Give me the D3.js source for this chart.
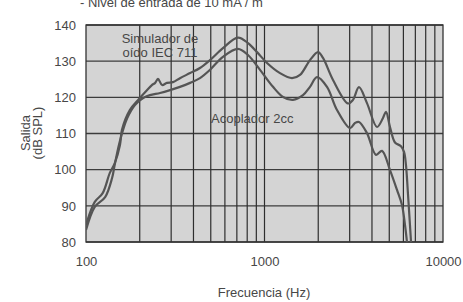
<!DOCTYPE html>
<html>
  <head>
    <script src="https://cdn.jsdelivr.net/npm/d3@7"></script>
    <style>
      body { margin: 0; background: #fff; }
      text { font-family: "Liberation Sans", Arial, sans-serif; fill: #474747; }
    </style>
  </head>
  <body>
    <svg width="463" height="302" id="mainsvg"></svg>
    <script>
      // data
      const simFreq = [100, 112, 124, 136, 145, 155, 159, 176, 196, 220, 234, 244, 253, 267, 284, 307, 336, 383, 435,
        495, 585, 710, 808, 908, 1033, 1221, 1426, 1581, 1798, 1994, 2127, 2420, 2936, 3132, 3383, 3751, 4269, 4612,
        4793, 5047, 5383, 5818, 6050, 6200, 6370, 6530, 6620];
      const simDb = [84.7, 91.1, 93.5, 99.1, 101.8, 106.8, 111.0, 116.5, 119.3, 122.0, 123.4, 124.0, 125.1, 123.4, 124.0, 124.2, 125.3, 126.7, 128.1,
        130.3, 133.6, 136.5, 135.0, 132.5, 129.5, 126.7, 125.3, 126.2, 130.3, 132.5, 130.9, 124.8, 118.3, 119.3, 122.8, 118.4, 111.8, 114.3,
        116.0, 111.8, 107.5, 106.5, 104.9, 101.3, 93.0, 84.7, 80.0];

      const cplFreq = [100, 112, 128, 140, 145, 155, 170, 188, 209, 228, 260, 296, 336, 383, 435,
        495, 585, 710, 808, 944, 1116, 1270, 1444, 1643, 1798, 1969, 2239, 2548, 3013, 3214, 3383, 3751, 4213, 4553,
        5047, 5525, 5892, 6124, 6284];
      const cplDb = [83.3, 89.7, 92.4, 97.7, 101.5, 108.0, 114.2, 117.9, 119.8, 120.6, 121.2, 122.0, 122.9, 124.0, 125.3,
        127.6, 131.2, 133.4, 131.7, 127.6, 122.9, 120.1, 119.3, 120.6, 122.9, 125.6, 122.9, 116.5, 111.5, 112.9, 113.2, 110.1, 104.1, 105.2,
        99.9, 94.4, 90.2, 84.7, 80.0];

      const yTicks = [80, 90, 100, 110, 120, 130, 140];
      const xTicks = [100, 1000, 10000];
      const xGrid = [200, 300, 400, 500, 600, 700, 800, 900, 1000,
        2000, 3000, 4000, 5000, 6000, 7000, 8000, 9000];

      const svg = d3.select('#mainsvg');
      const margin = {top: 25, right: 20, bottom: 60, left: 86};
      const innerWidth = 443 - margin.left;
      const innerHeight = 242 - margin.top;

      const xScale = d3.scaleLog().domain([100, 10000]).range([0, innerWidth]);
      const yScale = d3.scaleLinear().domain([80, 140]).range([innerHeight, 0]);

      const g = svg.append('g')
        .attr('transform', `translate(${margin.left}, ${margin.top})`);

      g.append('rect')
        .attr('width', innerWidth).attr('height', innerHeight)
        .attr('fill', '#d4d4d4');

      // grid
      g.selectAll('.hgrid').data(yTicks).join('line')
        .attr('class', 'hgrid')
        .attr('x1', 0).attr('x2', innerWidth)
        .attr('y1', d => yScale(d)).attr('y2', d => yScale(d))
        .attr('stroke', '#3c3c3c').attr('stroke-width', 1.3);
      g.selectAll('.vgrid').data(xGrid).join('line')
        .attr('class', 'vgrid')
        .attr('x1', d => xScale(d)).attr('x2', d => xScale(d))
        .attr('y1', 0).attr('y2', innerHeight)
        .attr('stroke', '#2e2e2e').attr('stroke-width', 1.2);

      g.append('rect')
        .attr('width', innerWidth).attr('height', innerHeight)
        .attr('fill', 'none').attr('stroke', '#333').attr('stroke-width', 1.3);

      svg.append('clipPath').attr('id', 'clip')
        .append('rect').attr('width', innerWidth).attr('height', innerHeight);

      const line = d3.line()
        .x(d => xScale(d[0]))
        .y(d => yScale(d[1]))
        .curve(d3.curveCatmullRom.alpha(0.5));

      const series = [d3.zip(simFreq, simDb), d3.zip(cplFreq, cplDb)];
      g.append('g').attr('clip-path', 'url(#clip)')
        .selectAll('path').data(series).join('path')
        .attr('d', line)
        .attr('fill', 'none')
        .attr('stroke', '#555')
        .attr('stroke-width', 2.2)
        .attr('stroke-linejoin', 'round');

      // axes (labels only)
      const yAxis = d3.axisLeft(yScale).tickValues(yTicks).tickSize(0).tickPadding(10);
      const yAxisGroup = g.append('g').call(yAxis);
      yAxisGroup.selectAll('.domain').remove();
      yAxisGroup.selectAll('text')
        .style('font-family', '"Liberation Sans", Arial, sans-serif')
        .style('font-size', '13px').attr('fill', '#474747');

      const xAxis = d3.axisBottom(xScale).tickValues(xTicks).tickFormat(d3.format('d')).tickSize(0).tickPadding(15);
      const xAxisGroup = g.append('g').call(xAxis)
        .attr('transform', `translate(0, ${innerHeight})`);
      xAxisGroup.selectAll('.domain').remove();
      xAxisGroup.selectAll('text')
        .style('font-family', '"Liberation Sans", Arial, sans-serif')
        .style('font-size', '13px').attr('fill', '#474747');

      // labels
      svg.append('text').attr('x', 80).attr('y', 7)
        .style('font-size', '13px').text('- Nivel de entrada de 10 mA / m');

      svg.append('text').attr('x', 264).attr('y', 297).attr('text-anchor', 'middle')
        .style('font-size', '13px').text('Frecuencia (Hz)');

      const yl = svg.append('text').attr('transform', 'translate(30, 133) rotate(-90)')
        .attr('text-anchor', 'middle').style('font-size', '13px');
      yl.append('tspan').attr('x', 0).attr('y', 0).text('Salida');
      yl.append('tspan').attr('x', 0).attr('y', 12).text('(dB SPL)');

      svg.append('text').attr('x', 160).attr('y', 43).attr('text-anchor', 'middle')
        .style('font-size', '13px').text('Simulador de');
      svg.append('text').attr('x', 160).attr('y', 57).attr('text-anchor', 'middle')
        .style('font-size', '13px').text('oído IEC 711');
      svg.append('text').attr('x', 211).attr('y', 123)
        .style('font-size', '13px').text('Acoplador 2cc');
    </script>
  </body>
</html>
